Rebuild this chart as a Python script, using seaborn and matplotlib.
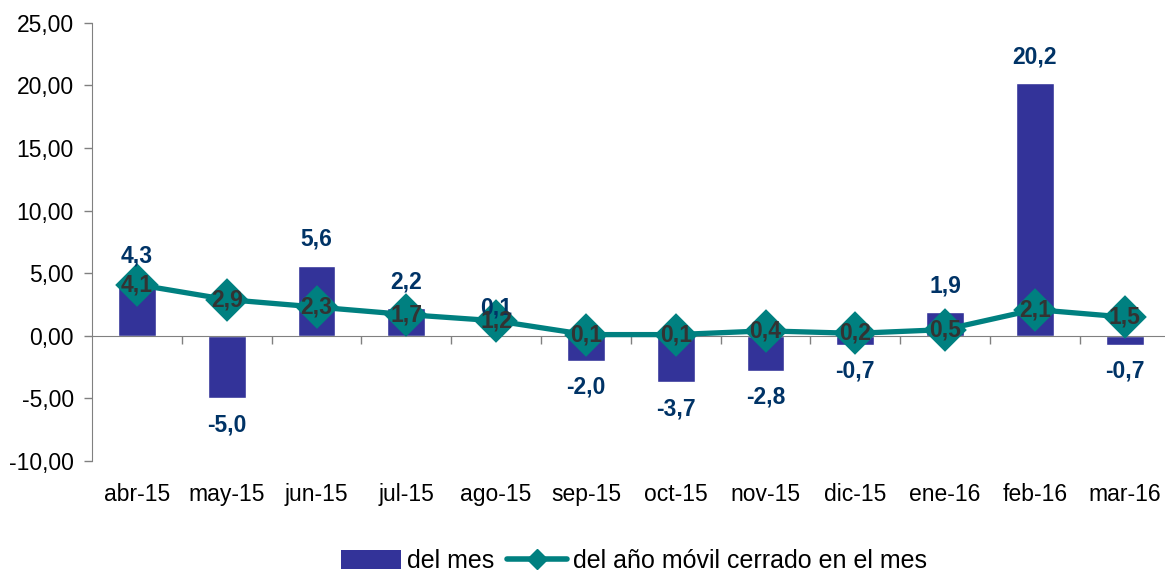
import pandas as pd
import seaborn as sns
import matplotlib.pyplot as plt
from matplotlib.patches import Patch
from matplotlib.lines import Line2D
from matplotlib.ticker import FuncFormatter, FixedLocator

months = ['abr-15', 'may-15', 'jun-15', 'jul-15', 'ago-15', 'sep-15',
          'oct-15', 'nov-15', 'dic-15', 'ene-16', 'feb-16', 'mar-16']
del_mes = [4.3, -5.0, 5.6, 2.2, 0.1, -2.0, -3.7, -2.8, -0.7, 1.9, 20.2, -0.7]
movil = [4.1, 2.9, 2.3, 1.7, 1.2, 0.1, 0.1, 0.4, 0.2, 0.5, 2.1, 1.5]
y_ticks = [-10, -5, 0, 5, 10, 15, 20, 25]

BAR = '#333399'
LINE = '#008080'
FS = 16.5


def coma(x, _=None, dec=2):
    return f'{x:.{dec}f}'.replace('.', ',')


sns.set_style('white')
plt.rcParams['font.family'] = ['Liberation Sans', 'DejaVu Sans']
plt.rcParams['text.color'] = 'black'

df = pd.DataFrame({'mes': months, 'del_mes': del_mes, 'movil': movil})

fig = plt.figure(figsize=(11.65, 5.72), dpi=100)
ax = fig.add_axes([0.079, 0.194, 0.925, 0.766])

sns.barplot(data=df, x='mes', y='del_mes', color=BAR, saturation=1,
            width=0.42, ax=ax, zorder=2)
sns.pointplot(data=df, x='mes', y='movil', color=LINE, markers='D',
              markersize=19.5, linewidth=3.8, ax=ax, zorder=3)

# etiquetas de las barras
for i, v in enumerate(del_mes):
    off = 19 if v >= 0 else -19
    ax.annotate(coma(v, dec=1), (i, v), xytext=(0, off), textcoords='offset points',
                ha='center', va='center', fontsize=FS, fontweight='bold',
                color='#003366', zorder=4)

# etiquetas de la linea
for i, v in enumerate(movil):
    ax.annotate(coma(v, dec=1), (i, v), ha='center', va='center', fontsize=FS,
                fontweight='bold', color='#333333', zorder=5)

ax.set_ylim(-10, 25)
ax.set_xlim(-0.5, 11.5)
ax.set_yticks(y_ticks)
ax.yaxis.set_major_formatter(FuncFormatter(coma))
ax.set_xlabel('')
ax.set_ylabel('')

for s in ['top', 'right']:
    ax.spines[s].set_visible(False)
ax.spines['left'].set_color('#808080')
ax.spines['bottom'].set_color('#808080')
ax.spines['bottom'].set_position(('data', 0))
ax.spines['bottom'].set_zorder(2.5)

ax.xaxis.set_minor_locator(FixedLocator([i + 0.5 for i in range(11)]))
ax.tick_params(axis='x', which='major', length=0, pad=106, labelsize=FS,
               labelcolor='black')
ax.tick_params(axis='x', which='minor', length=6, width=1, color='#808080',
               direction='out', bottom=True)
ax.tick_params(axis='y', length=6, width=1, color='#808080', direction='out',
               left=True, pad=7, labelsize=FS, labelcolor='black')
ax.grid(False)

handles = [
    Patch(facecolor=BAR, edgecolor='none', label='del mes'),
    Line2D([0], [0], color=LINE, lw=4, marker='D', markersize=10,
           label='del año móvil cerrado en el mes'),
]
fig.legend(handles=handles, loc='center', bbox_to_anchor=(0.544, 0.019), ncol=2,
           frameon=False, fontsize=18, handlelength=2.4, handleheight=0.75,
           handletextpad=0.25, columnspacing=0.5)

fig.savefig('out.png', dpi=100)
